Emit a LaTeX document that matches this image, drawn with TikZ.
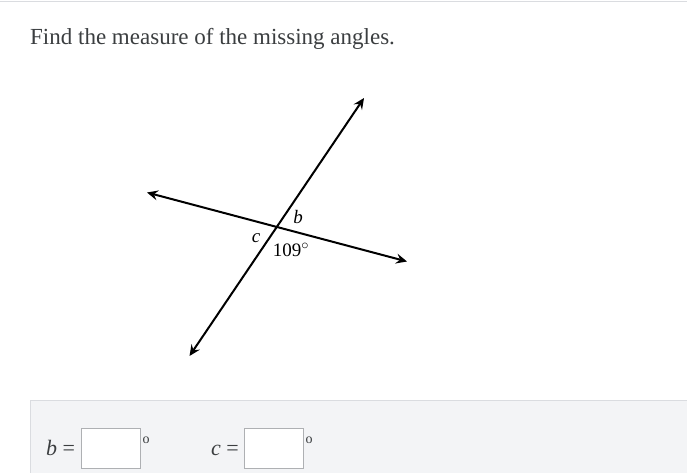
\documentclass[tikz,border=0pt]{standalone}
\usepackage{fontspec}
\setmainfont{Liberation Serif}
\usetikzlibrary{arrows.meta}
\definecolor{txt}{HTML}{3B3E40}
\definecolor{panel}{HTML}{F3F4F6}
\definecolor{panelline}{HTML}{DADCE0}
\tikzset{
  ray/.style={line width=2pt,{Stealth[length=11pt,width=10pt,inset=4pt]}-{Stealth[length=11pt,width=10pt,inset=4pt]}},
  lbl/.style={font=\fontsize{19}{19}\selectfont\itshape, inner sep=0pt},
  ansbox/.style={draw=panelline!80!black, fill=white, line width=0.9pt, minimum width=59pt, minimum height=40pt, inner sep=0pt},
  deg/.style={font=\fontsize{14}{14}\selectfont, inner sep=0pt, text=txt}
}
\begin{document}
\begin{tikzpicture}[x=1pt,y=-1pt]
\useasboundingbox (0,0) rectangle (687,473);
\fill[white] (0,0) rectangle (687,473);
\draw[panelline,line width=1pt] (0,1.5) -- (687,1.5);
% title
\node[anchor=base west, inner sep=0pt, text=txt, font=\fontsize{23}{23}\selectfont] (title) at (30,45) {Find the measure of the missing angles.};
% lines
\coordinate (L) at (147,192.5);
\coordinate (R) at (407,261.5);
\coordinate (U) at (364,98);
\coordinate (D) at (189.5,356);
\coordinate (O) at (277,226.5);
\draw[ray] (L) -- (R);
\draw[ray] (D) -- (U);
\node[lbl] (b) at (298,217) {b};
\node[lbl] (c) at (256,238) {c};
\node[inner sep=0pt, font=\fontsize{19}{19}\selectfont] (ang) at (291,250) {109$^\circ$};
% panel
\draw[panelline, fill=panel, line width=1pt] (30.5,400.5) -- (690,400.5) -- (690,480) -- (30.5,480) -- cycle;
\node[anchor=base west, inner sep=0pt, text=txt, font=\fontsize{22}{22}\selectfont] (beq) at (46,455) {\textit{b} =};
\node[ansbox] (bbox) at (110.5,448) {};
\node[deg] (bdeg) at (146,440) {o};
\node[anchor=base west, inner sep=0pt, text=txt, font=\fontsize{22}{22}\selectfont] (ceq) at (211,455) {\textit{c} =};
\node[ansbox] (cbox) at (273.5,448) {};
\node[deg] (cdeg) at (309,440) {o};
\end{tikzpicture}
\end{document}
